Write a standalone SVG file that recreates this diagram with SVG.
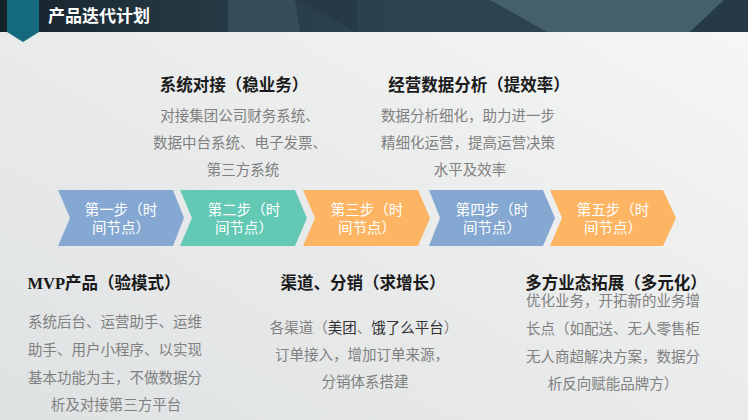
<svg xmlns="http://www.w3.org/2000/svg" width="748" height="420" viewBox="0 0 748 420">
  <defs>
    <linearGradient id="bg" x1="0" y1="1" x2="1" y2="0">
      <stop offset="0" stop-color="#dfe2e3"/>
      <stop offset="0.6" stop-color="#eceded"/>
      <stop offset="1" stop-color="#f6f7f7"/>
    </linearGradient>
    <linearGradient id="hdr" x1="0" y1="0" x2="1" y2="0">
      <stop offset="0" stop-color="#16232b"/>
      <stop offset="0.2" stop-color="#22343e"/>
      <stop offset="0.45" stop-color="#2b414d"/>
      <stop offset="1" stop-color="#2f4653"/>
    </linearGradient>
    <style>
      .title { font-family: "Noto Sans CJK SC", sans-serif; font-weight: bold; font-size: 17px; fill: #ffffff; }
      .head { font-family: "Liberation Serif", "Noto Sans CJK SC", serif; font-weight: bold; font-size: 16.5px; fill: #1a1a1a; text-anchor: middle; }
      .body { font-family: "Noto Sans CJK SC", sans-serif; font-size: 14.5px; fill: #808080; text-anchor: middle; }
      .dark { fill: #333333; }
      .step { font-family: "Noto Sans CJK SC", sans-serif; font-size: 14.5px; fill: #ffffff; text-anchor: middle; }
      .blue { fill: #84a8d2; }
      .teal { fill: #63c9b4; }
      .orange { fill: #fdb563; }
    </style>
  </defs>

  <rect x="0" y="0" width="748" height="420" fill="url(#bg)"/>

  <g id="header">
    <rect x="0" y="0" width="748" height="32" fill="url(#hdr)"/>
    <polygon points="228,0 295,0 300,32 228,32" fill="#3a5260" opacity="0.8"/>
    <polygon points="295,0 357,0 357,32" fill="#253843" opacity="0.8"/>
    <polygon points="490,0 724,0 690,32 547,32" fill="#45606d"/>
    <polygon points="724,0 748,0 748,32 690,32" fill="#263a46"/>
    <polygon points="7,0 39,0 39,32 23,42 7,32" fill="#156a80"/>
    <text class="title" x="48" y="22">产品迭代计划</text>
  </g>

  <g id="connectors"></g>

  <g id="step1">
    <polygon class="blue" points="58,190 173,190 184,218 173,246 58,246 70,218"/>
    <text class="step" x="121" y="214.5">第一步（时</text>
    <text class="step" x="121" y="232.5">间节点）</text>
  </g>
  <g id="step2">
    <polygon class="teal" points="180,190 295,190 307,218 295,246 180,246 192,218"/>
    <text class="step" x="244" y="214.5">第二步（时</text>
    <text class="step" x="244" y="232.5">间节点）</text>
  </g>
  <g id="step3">
    <polygon class="orange" points="303,190 418,190 430,218 418,246 303,246 315,218"/>
    <text class="step" x="367" y="214.5">第三步（时</text>
    <text class="step" x="367" y="232.5">间节点）</text>
  </g>
  <g id="step4">
    <polygon class="blue" points="429,190 543,190 555,218 543,246 429,246 440,218"/>
    <text class="step" x="492" y="214.5">第四步（时</text>
    <text class="step" x="492" y="232.5">间节点）</text>
  </g>
  <g id="step5">
    <polygon class="orange" points="550,190 663,190 676,218 663,246 550,246 562,218"/>
    <text class="step" x="613" y="214.5">第五步（时</text>
    <text class="step" x="613" y="232.5">间节点）</text>
  </g>

  <g id="note-system">
    <text class="head" x="234" y="91">系统对接（稳业务）</text>
    <text class="body" x="240" y="121">对接集团公司财务系统、</text>
    <text class="body" x="240" y="148">数据中台系统、电子发票、</text>
    <text class="body" x="243" y="175">第三方系统</text>
  </g>

  <g id="note-data">
    <text class="head" x="479" y="91">经营数据分析（提效率）</text>
    <text class="body" x="468" y="121">数据分析细化，助力进一步</text>
    <text class="body" x="468" y="148">精细化运营，提高运营决策</text>
    <text class="body" x="470" y="175">水平及效率</text>
  </g>

  <g id="note-mvp">
    <text class="head" x="104" y="289">MVP产品（验模式）</text>
    <text class="body" x="115" y="327">系统后台、运营助手、运维</text>
    <text class="body" x="115" y="355">助手、用户小程序、以实现</text>
    <text class="body" x="115" y="383">基本功能为主，不做数据分</text>
    <text class="body" x="116" y="410">析及对接第三方平台</text>
  </g>

  <g id="note-channel">
    <text class="head" x="363" y="289">渠道、分销（求增长）</text>
    <text class="body" x="364" y="333">各渠道（<tspan class="dark">美团</tspan>、<tspan class="dark">饿了么平台</tspan>）</text>
    <text class="body" x="362" y="360">订单接入，增加订单来源，</text>
    <text class="body" x="365" y="387">分销体系搭建</text>
  </g>

  <g id="note-multi">
    <text class="head" x="616" y="289">多方业态拓展（多元化）</text>
    <text class="body" x="613" y="306">优化业务，开拓新的业务增</text>
    <text class="body" x="613" y="334">长点（如配送、无人零售柜</text>
    <text class="body" x="613" y="362">无人商超解决方案，数据分</text>
    <text class="body" x="613" y="389">析反向赋能品牌方）</text>
  </g>
</svg>
